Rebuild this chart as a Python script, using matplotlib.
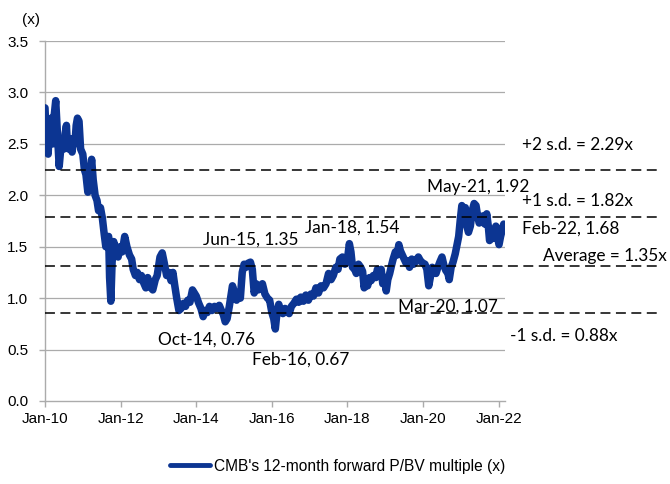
import numpy as np
import pandas as pd
import matplotlib
matplotlib.use("Agg")
import matplotlib.pyplot as plt
from matplotlib.transforms import blended_transform_factory

# ---- data (month offsets from Jan-2010, P/BV multiple) ----
months = [0.0, 0.2, 0.5, 0.8, 1.0, 1.3, 1.5, 1.8, 2.0, 2.3, 2.5, 2.8, 3.0, 3.4, 3.7, 4.0, 4.3, 4.5,
          5.0, 5.5, 6.0, 6.4, 6.8, 7.1, 7.5, 8.0, 8.6, 9.0, 9.5, 9.9,
          10.3, 10.8, 11.3, 12.0, 12.5, 13.0, 13.6, 14.2, 14.8, 15.3, 15.9, 16.5, 17.0, 17.6, 18.2,
          18.8, 19.3, 19.8, 20.2, 20.5, 20.9, 21.3, 21.8, 22.5, 23.2, 23.8, 24.5, 25.3, 26.0, 26.8,
          27.5, 28.0, 28.7, 29.3, 30.0, 30.6, 31.3, 32.0, 32.6, 33.2, 34.2, 35.0, 35.6, 36.5, 37.2,
          37.8, 38.6, 39.3, 40.0, 40.6, 41.2, 41.8, 42.5, 43.2, 44.0, 44.6, 45.3, 46.0, 46.8, 47.4,
          48.0, 48.8, 49.5, 50.2, 50.8, 51.5, 52.2, 53.0, 53.8, 54.5, 55.3, 56.0, 56.6, 57.2, 57.8,
          58.5, 59.0, 59.5, 60.2, 60.8, 61.4, 62.0, 62.6, 63.2, 63.8, 64.5, 65.2, 65.8, 66.4, 67.0,
          67.7, 68.4, 69.0, 69.8, 70.6, 71.3, 72.0, 72.6, 73.1, 73.6, 74.2, 74.8, 75.5, 76.2, 76.8,
          77.5, 78.2, 79.0, 79.8, 80.5, 81.2, 82.0, 82.8, 83.6, 84.4, 85.2, 86.0, 86.8, 87.6, 88.4,
          89.2, 90.0, 90.8, 91.5, 92.3, 93.0, 93.6, 94.4, 95.2, 96.0, 96.6, 97.1, 97.6, 98.3, 98.8,
          99.5, 100.2, 100.8, 101.3, 101.8, 102.4, 103.0, 103.5, 104.2, 105.0, 105.5, 106.2, 106.7,
          107.2, 107.8, 108.3, 108.8, 109.4, 110.0, 110.5, 111.2, 111.8, 112.3, 112.8, 113.4, 114.0,
          114.6, 115.2, 115.7, 116.4, 117.0, 117.7, 118.5, 119.2, 120.0, 120.6, 121.2, 121.8, 122.3,
          122.9, 123.5, 124.1, 124.7, 125.3, 126.0, 126.6, 127.2, 127.9, 128.3, 128.9, 129.5, 130.2,
          130.8, 131.3, 131.8, 132.3, 132.8, 133.4, 133.9, 134.4, 135.0, 135.6, 136.2, 136.8, 137.3,
          137.8, 138.4, 139.0, 139.6, 140.2, 140.7, 141.1, 141.6, 142.1, 142.6, 143.1, 143.6, 144.1,
          144.6, 145.1, 145.6]
pbv = [2.85, 2.70, 2.60, 2.45, 2.40, 2.62, 2.55, 2.70, 2.75, 2.50, 2.50, 2.75, 2.80, 2.92, 2.75, 2.60,
       2.40, 2.28, 2.45, 2.55, 2.45, 2.60, 2.68, 2.50, 2.45, 2.55, 2.42, 2.55, 2.50, 2.68,
       2.75, 2.72, 2.45, 2.40, 2.25, 2.20, 2.03, 2.15, 2.35, 2.15, 2.00, 1.95, 1.85, 1.88,
       1.78, 1.62, 1.50, 1.55, 1.60, 1.20, 0.97, 1.35, 1.55, 1.45, 1.40, 1.50, 1.45, 1.60, 1.50, 1.42,
       1.38, 1.28, 1.22, 1.25, 1.18, 1.22, 1.15, 1.10, 1.20, 1.12, 1.08, 1.18, 1.22, 1.40, 1.44,
       1.35, 1.22, 1.25, 1.17, 1.25, 1.12, 1.00, 0.88, 0.90, 0.95, 0.92, 0.98, 0.96, 1.08, 1.05,
       1.02, 0.95, 0.90, 0.82, 0.88, 0.86, 0.92, 0.88, 0.92, 0.90, 0.93, 0.88, 0.84, 0.77, 0.80,
       0.92, 1.02, 1.12, 1.05, 0.98, 1.02, 1.00, 1.25, 1.33, 1.30, 1.34, 1.35, 1.28, 1.05, 1.14,
       1.08, 1.12, 1.14, 1.04, 1.00, 0.98, 0.86, 0.80, 0.70, 0.85, 0.94, 0.88, 0.85, 0.90, 0.88,
       0.85, 0.92, 0.95, 0.99, 0.96, 1.01, 0.97, 1.03, 0.98, 1.04, 1.02, 1.10, 1.05, 1.12, 1.10,
       1.14, 1.24, 1.18, 1.22, 1.30, 1.28, 1.38, 1.40, 1.33, 1.38, 1.53, 1.45, 1.30, 1.28, 1.24,
       1.33, 1.30, 1.26, 1.10, 1.18, 1.12, 1.20, 1.17, 1.22, 1.20, 1.28, 1.25, 1.28,
       1.14, 1.20, 1.07, 1.18, 1.24, 1.32, 1.38, 1.45, 1.42, 1.52, 1.46, 1.42, 1.38,
       1.34, 1.36, 1.30, 1.38, 1.33, 1.36, 1.40, 1.36, 1.34, 1.33, 1.28, 1.12, 1.20,
       1.30, 1.27, 1.24, 1.30, 1.35, 1.40, 1.32, 1.27, 1.24, 1.18, 1.30, 1.35, 1.43,
       1.52, 1.60, 1.76, 1.90, 1.80, 1.88, 1.70, 1.64, 1.70, 1.85, 1.92, 1.90, 1.80,
       1.73, 1.76, 1.80, 1.72, 1.82, 1.70, 1.56, 1.62, 1.58, 1.66, 1.70, 1.60, 1.52,
       1.60, 1.66, 1.72]

band_levels = [2.245, 1.79, 1.31, 0.855]
band_labels = ["+2 s.d. = 2.29x", "+1 s.d. = 1.82x", "Average = 1.35x", "-1 s.d. = 0.88x"]

point_labels = ["May-21, 1.92", "Jan-18, 1.54", "Jun-15, 1.35", "Oct-14, 0.76",
                "Feb-16, 0.67", "Mar-20, 1.07", "Feb-22, 1.68"]

yticks = [0.0, 0.5, 1.0, 1.5, 2.0, 2.5, 3.0, 3.5]
xtick_years = [2010, 2012, 2014, 2016, 2018, 2020, 2022]
series_name = "CMB's 12-month forward P/BV multiple (x)"

# ---- build dates ----
start = pd.Timestamp("2010-01-01")
dates = [start + pd.Timedelta(days=m * 30.4375) for m in months]

W, H = 670, 484
fig = plt.figure(figsize=(W / 100, H / 100), dpi=100)
ax = fig.add_axes([45 / W, 1 - 401 / H, 460 / W, 360 / H])

tick_font = "Liberation Sans"
ann_font = "Lato"

ax.set_ylim(0, 3.5)
ax.set_xlim(start, start + pd.Timedelta(days=146 * 30.4375))
ax.set_yticks(yticks)
ax.set_yticklabels([f"{v:.1f}" for v in yticks], fontfamily=tick_font, fontsize=11)
xt = [pd.Timestamp(f"{y}-01-01") for y in xtick_years]
ax.set_xticks(xt)
ax.set_xticklabels([f"Jan-{str(y)[2:]}" for y in xtick_years], fontfamily=tick_font, fontsize=11)

grid_c = "#ababab"
for v in yticks[1:]:
    ax.axhline(v, color=grid_c, lw=0.9, zorder=1)
for s in ["top", "right"]:
    ax.spines[s].set_visible(False)
for s in ["left", "bottom"]:
    ax.spines[s].set_color(grid_c)
    ax.spines[s].set_linewidth(1.0)
ax.tick_params(axis="both", colors=grid_c, labelcolor="black", length=4, width=1.0)
ax.tick_params(axis="y", pad=8)
ax.tick_params(axis="x", pad=4)

line, = ax.plot(dates, pbv, color="#0c3592", lw=5.4, solid_joinstyle="round",
                solid_capstyle="round", zorder=3, label=series_name)

# dashed band lines extending past the axes
trans = blended_transform_factory(ax.transAxes, ax.transData)
x_end = (662 - 45) / 460
for lvl in band_levels:
    ax.plot([0, x_end], [lvl, lvl], transform=trans, color="black", lw=1.1,
            dashes=(6.5, 3.6), clip_on=False, zorder=4)

def px_text(x, y, s, ha="left", **kw):
    fig.text(x / W, 1 - y / H, s, ha=ha, va="center", **kw)

afs = 12.4
px_text(522, 145, band_labels[0], fontfamily=ann_font, fontsize=afs)
px_text(522, 201, band_labels[1], fontfamily=ann_font, fontsize=afs)
px_text(667, 256, band_labels[2], ha="right", fontfamily=ann_font, fontsize=afs)
px_text(510, 336, band_labels[3], fontfamily=ann_font, fontsize=afs)

px_text(427, 187, point_labels[0], fontfamily=ann_font, fontsize=afs)
px_text(305, 228, point_labels[1], fontfamily=ann_font, fontsize=afs)
px_text(203, 240, point_labels[2], fontfamily=ann_font, fontsize=afs)
px_text(158, 340, point_labels[3], fontfamily=ann_font, fontsize=afs)
px_text(252, 360, point_labels[4], fontfamily=ann_font, fontsize=afs)
px_text(398, 307, point_labels[5], fontfamily=ann_font, fontsize=afs)
px_text(522, 229, point_labels[6], fontfamily=ann_font, fontsize=afs)

px_text(31, 20, "(x)", ha="center", fontfamily=tick_font, fontsize=11)

leg = fig.legend(handles=[line], loc="center left",
                 bbox_to_anchor=(170 / W, 1 - 466 / H), frameon=False,
                 borderpad=0, borderaxespad=0, handlelength=2.6, handletextpad=0.2,
                 prop={"family": tick_font, "size": 11.2})
leg.get_lines()[0].set_linewidth(3.5)

fig.savefig("out.png", dpi=100)
